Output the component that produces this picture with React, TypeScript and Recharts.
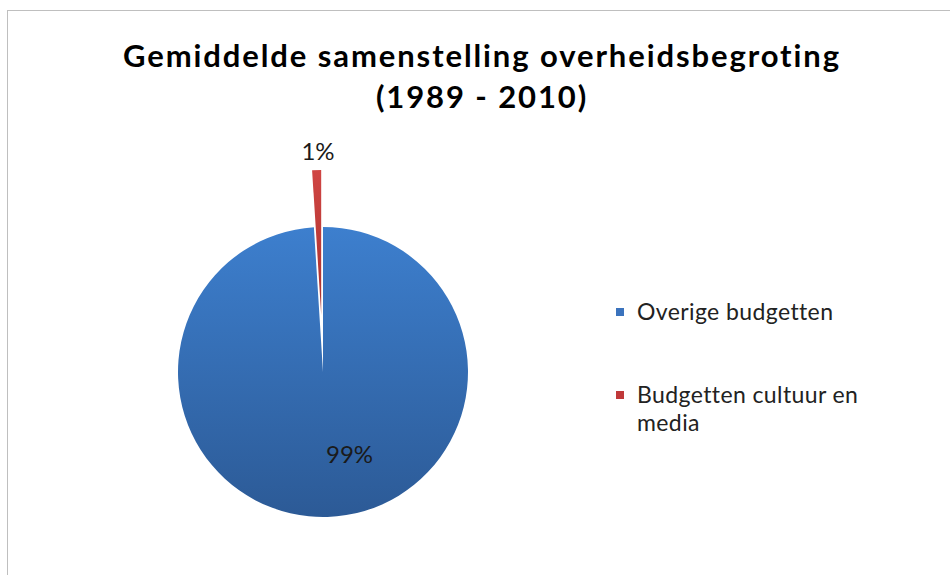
import React from 'react';
import { PieChart, Pie, Cell, Legend } from 'recharts';

const titleLines = ['Gemiddelde samenstelling overheidsbegroting', '(1989 - 2010)'];
const categories = ['Overige budgetten', 'Budgetten cultuur en media'];
const values = [99, 1];
const valueLabels = ['99%', '1%'];
const explodedFlags = [false, true];
const gradTop = ['#3d7fce', '#d04543'];
const gradBottom = ['#2c5a96', '#a8302c'];
const legendColors = ['#3b73bd', '#c0393a'];

const data = categories.map((name, i) => ({ name, value: values[i], label: valueLabels[i] }));

const W = 950;
const H = 575;
const CX = 323;
const CY = 372;
const R = 145;
const EXPLODE = 57;
const START = 90;
const END = -270;
const FONT = 'Lato, "Open Sans", sans-serif';

const total = values.reduce((a, b) => a + b, 0);
const explodedIndex = explodedFlags.indexOf(true);
const before = values.slice(0, explodedIndex).reduce((a, b) => a + b, 0);
const midAngle = START - ((before + values[explodedIndex] / 2) / total) * 360;
const rad = (midAngle * Math.PI) / 180;
const offX = EXPLODE * Math.cos(rad);
const offY = -EXPLODE * Math.sin(rad);

const renderLabel = (which: boolean) => (props: any) => {
  const { cx, cy, midAngle: ma, outerRadius, index } = props;
  if (explodedFlags[index] !== which) return null;
  const a = (ma * Math.PI) / 180;
  let r: number;
  let nudge = 0;
  if (which) {
    r = outerRadius + 20;
    nudge = 2;
  } else {
    r = outerRadius * 0.56;
    nudge = 24;
  }
  const x = cx + r * Math.cos(a) + nudge;
  const y = cy - r * Math.sin(a);
  return (
    <text
      x={x}
      y={y}
      textAnchor="middle"
      dominantBaseline="central"
      fill="#1a1a1a"
      fontFamily={FONT}
      fontSize={24}
    >
      {data[index].label}
    </text>
  );
};

const renderLegend = () => (
  <div style={{ fontFamily: FONT, fontSize: 23, letterSpacing: 0.4, color: '#222', width: 270 }}>
    {categories.map((c, i) => (
      <div key={c} style={{ display: 'flex', alignItems: 'flex-start', marginBottom: i === 0 ? 55 : 0 }}>
        <div
          style={{
            width: 8,
            height: 8,
            background: legendColors[i],
            marginTop: 11,
            marginRight: 13,
            flex: 'none',
          }}
        />
        <div style={{ width: 240, lineHeight: '28px' }}>{c}</div>
      </div>
    ))}
  </div>
);

export default function App() {
  return (
    <div style={{ position: 'absolute', left: 0, top: 0, width: W, height: H, background: '#fff' }}>
      <div
        style={{
          position: 'absolute',
          left: 7,
          top: 10,
          width: W,
          height: H,
          borderTop: '1px solid #bfbfbf',
          borderLeft: '1px solid #bfbfbf',
        }}
      />
      <div
        style={{
          position: 'absolute',
          left: 0,
          top: 35,
          width: 964,
          textAlign: 'center',
          fontFamily: FONT,
          fontWeight: 700,
          fontSize: 31,
          letterSpacing: 1.9,
          lineHeight: '41px',
          color: '#000',
        }}
      >
        {titleLines.map((t) => (
          <div key={t}>{t}</div>
        ))}
      </div>
      <div style={{ position: 'absolute', left: 0, top: 0 }}>
        <PieChart width={W} height={H} margin={{ top: 0, right: 0, bottom: 0, left: 0 }}>
          <defs>
            {categories.map((c, i) => (
              <linearGradient key={c} id={`grad${i}`} x1="0" y1="0" x2="0" y2="1">
                <stop offset="0%" stopColor={gradTop[i]} />
                <stop offset="100%" stopColor={gradBottom[i]} />
              </linearGradient>
            ))}
          </defs>
          <Pie
            data={data}
            dataKey="value"
            nameKey="name"
            cx={CX}
            cy={CY}
            outerRadius={R}
            startAngle={START}
            endAngle={END}
            stroke="none"
            label={renderLabel(false)}
            labelLine={false}
            isAnimationActive={false}
          >
            {data.map((d, i) => (
              <Cell key={d.name} fill={explodedFlags[i] ? 'none' : `url(#grad${i})`} stroke="none" />
            ))}
          </Pie>
          <Pie
            data={data}
            dataKey="value"
            nameKey="name"
            cx={CX + offX}
            cy={CY + offY}
            outerRadius={R}
            startAngle={START}
            endAngle={END}
            stroke="none"
            label={renderLabel(true)}
            labelLine={false}
            isAnimationActive={false}
          >
            {data.map((d, i) => (
              <Cell key={d.name} fill={explodedFlags[i] ? `url(#grad${i})` : 'none'} stroke="none" />
            ))}
          </Pie>
          <Legend
            layout="vertical"
            align="right"
            verticalAlign="top"
            content={renderLegend}
            wrapperStyle={{ left: 616, top: 297, width: 280 }}
          />
        </PieChart>
      </div>
    </div>
  );
}
